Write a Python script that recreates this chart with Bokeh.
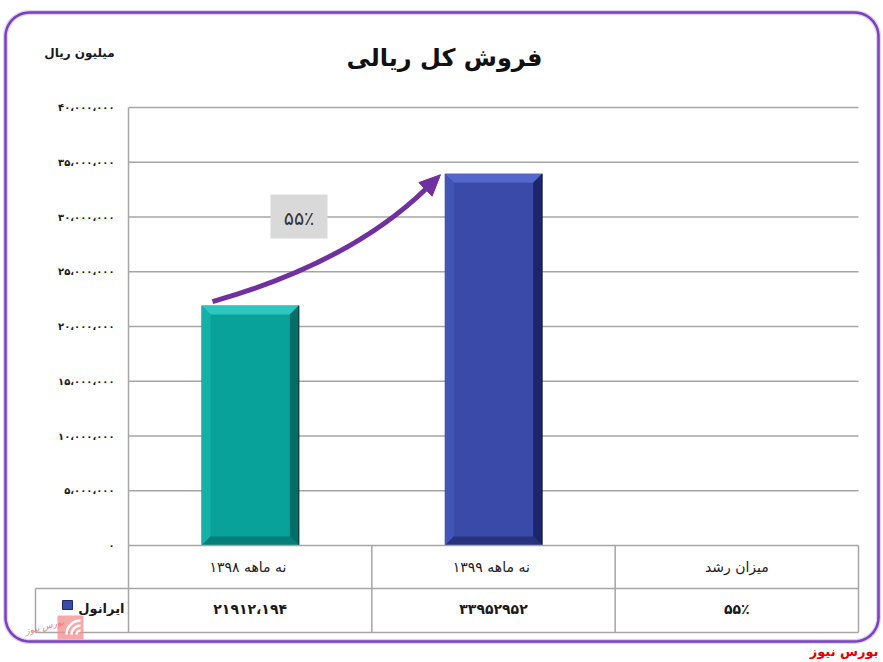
import numpy as np
from bokeh.plotting import figure
from bokeh.models import Range1d
from bokeh.core.properties import value
from bokeh.embed import file_html
from bokeh.resources import INLINE

# ---------------- data ----------------
title_text = "فروش کل ریالی"
unit_text = "میلیون ریال"
categories = ["نه  ماهه ۱۳۹۸", "نه  ماهه ۱۳۹۹", "میزان رشد"]
series_name = "ایرانول"
sales = [21912194, 33952952]
table_values = ["۲۱۹۱۲،۱۹۴", "۳۳۹۵۲۹۵۲", "۵۵٪"]
growth_label = "۵۵٪"
y_ticks = [0, 5000000, 10000000, 15000000, 20000000, 25000000, 30000000, 35000000, 40000000]
y_tick_labels = ["۰", "۵،۰۰۰،۰۰۰", "۱۰،۰۰۰،۰۰۰", "۱۵،۰۰۰،۰۰۰", "۲۰،۰۰۰،۰۰۰",
                 "۲۵،۰۰۰،۰۰۰", "۳۰،۰۰۰،۰۰۰", "۳۵،۰۰۰،۰۰۰", "۴۰،۰۰۰،۰۰۰"]
source_text = "بورس نیوز"

# ---------------- layout (page pixels) ----------------
W, H = 883, 662
M = 0
PLOT_L, PLOT_R, PLOT_T, PLOT_B = 128, 858, 107, 545
ROW1, ROW2 = 43, 87
LEG_L = 35

ncat = len(categories)
x_per_px = ncat / (PLOT_R - PLOT_L)
y_per_px = y_ticks[-1] / (PLOT_B - PLOT_T)


def X(px):
    return (px - PLOT_L) * x_per_px


def Y(py):
    return (PLOT_B - py) * y_per_px


def PY(v):
    return PLOT_B - v / y_per_px


FONT = value("DejaVu Sans")

p = figure(width=W, height=H, output_backend="svg", toolbar_location=None,
           x_range=Range1d(X(M), X(M + W)), y_range=Range1d(Y(M + H), Y(M)),
           x_axis_type=None, y_axis_type=None, min_border=0)
p.outline_line_color = None
p.background_fill_color = "white"
p.border_fill_color = "white"

# rounded purple frame
def rounded_rect(l, t, r, b, rad, n=14):
    xs, ys = [], []
    corners = [(r - rad, t + rad, -90, 0), (r - rad, b - rad, 0, 90),
               (l + rad, b - rad, 90, 180), (l + rad, t + rad, 180, 270)]
    for cx, cy, a0, a1 in corners:
        for a in np.linspace(np.radians(a0), np.radians(a1), n):
            xs.append(cx + rad * np.cos(a))
            ys.append(cy + rad * np.sin(a))
    return [X(v) for v in xs], [Y(v) for v in ys]

fx, fy = rounded_rect(5, 12, 878, 641, 24)
p.patch(fx, fy, fill_color=None, line_color="#C9B5E6", line_width=5, line_alpha=0.6)
p.patch(fx, fy, fill_color=None, line_color="#7B3FC4", line_width=2.5)

# gridlines
grid_color = "#A6A6A6"
p.segment(x0=[0] * (len(y_ticks) - 1), y0=y_ticks[1:], x1=[ncat] * (len(y_ticks) - 1), y1=y_ticks[1:],
          line_color=grid_color, line_width=1.5)

# y tick labels
p.text(x=[X(114)] * len(y_ticks), y=y_ticks, text=y_tick_labels, text_align="right",
       text_baseline="middle", text_font_size="10px", text_font_style="bold",
       text_font=FONT, text_color="#1a1a1a")

# bars with bevel
bar_w = 0.4
centers = [i + 0.5 for i in range(len(sales))]
face = ["#08A29B", "#3A4AA9"]
top_c = ["#2CC8C0", "#5566CC"]
left_c = ["#15B0A8", "#4455B8"]
right_c = ["#056E69", "#1C266C"]
bot_c = ["#067F79", "#27337F"]
p.vbar(x=centers, top=sales, bottom=0, width=bar_w, fill_color=face, line_color=None)
bx = 9 * x_per_px
by = 9 * y_per_px
for i, (c, t) in enumerate(zip(centers, sales)):
    l, r = c - bar_w / 2, c + bar_w / 2
    p.patch([l, r, r - bx, l + bx], [t, t, t - by, t - by], fill_color=top_c[i], line_color=None)
    p.patch([l, l, l + bx, l + bx], [0, t, t - by, by], fill_color=left_c[i], line_color=None)
    p.patch([r, r, r - bx, r - bx], [0, t, t - by, by], fill_color=right_c[i], line_color=None)
    p.patch([l, r, r - bx, l + bx], [0, 0, by, by], fill_color=bot_c[i], line_color=None)
    p.segment(x0=[r], y0=[0], x1=[r], y1=[t], line_color="#10181a", line_width=1.5, line_alpha=0.6)

# table lines
p.segment(x0=[0, X(LEG_L), X(LEG_L)], y0=[0, Y(PLOT_B + ROW1), Y(PLOT_B + ROW2)],
          x1=[ncat] * 3, y1=[0, Y(PLOT_B + ROW1), Y(PLOT_B + ROW2)],
          line_color=grid_color, line_width=1.5)
p.segment(x0=[0], y0=[y_ticks[-1]], x1=[0], y1=[Y(PLOT_B + ROW2)], line_color=grid_color, line_width=1.5)
p.segment(x0=list(range(1, ncat + 1)), y0=[0] * ncat, x1=list(range(1, ncat + 1)),
          y1=[Y(PLOT_B + ROW2)] * ncat, line_color=grid_color, line_width=1.5)
p.segment(x0=[X(LEG_L)], y0=[Y(PLOT_B + ROW1)], x1=[X(LEG_L)], y1=[Y(PLOT_B + ROW2)],
          line_color=grid_color, line_width=1.5)

# table texts
col_centers = [i + 0.5 for i in range(ncat)]
p.text(x=col_centers, y=[Y(PLOT_B + 21)] * ncat, text=categories, text_align="center",
       text_baseline="middle", text_font_size="14px", text_font=FONT, text_color="#1a1a1a")
p.text(x=col_centers, y=[Y(PLOT_B + 63)] * ncat, text=table_values, text_align="center",
       text_baseline="middle", text_font_size="14px", text_font_style="bold", text_font=FONT,
       text_color="#1a1a1a")
p.rect(x=[X(67)], y=[Y(604.5)], width=10, height=9, width_units="screen", height_units="screen",
       fill_color=face[1], line_color="#1C266C", line_width=1)
p.text(x=[X(124)], y=[Y(608)], text=[series_name], text_align="right", text_baseline="middle",
       text_font_size="13px", text_font_style="bold", text_font=FONT, text_color="#1a1a1a")

# title & unit
p.text(x=[X(444)], y=[Y(57)], text=[title_text], text_align="center", text_baseline="middle",
       text_font_size="24px", text_font_style="bold", text_font=FONT, text_color="#111111")
p.text(x=[X(79)], y=[Y(52)], text=[unit_text], text_align="center", text_baseline="middle",
       text_font_size="12px", text_font_style="bold", text_font=FONT, text_color="#1a1a1a")

# growth arrow
sx, sy = 212.0, PY(sales[0]) - 4
tx, ty = 440.0, PY(sales[1]) + 1
cx, cy = 350.0, 262.0
d = np.array([tx - cx, ty - cy]); d = d / np.linalg.norm(d)
perp = np.array([-d[1], d[0]])
head_len, head_half = 21.0, 9.5
base = np.array([tx, ty]) - head_len * d
p.quadratic(x0=[X(sx)], y0=[Y(sy)], x1=[X(base[0] + 2 * d[0])], y1=[Y(base[1] + 2 * d[1])],
            cx=[X(cx)], cy=[Y(cy)], line_color="#7030A0", line_width=5)
hp = [np.array([tx, ty]), base + head_half * perp, base - head_half * perp]
p.patch([X(q[0]) for q in hp], [Y(q[1]) for q in hp], fill_color="#7030A0", line_color="#7030A0")

# growth label box
p.quad(left=[X(270)], right=[X(327)], top=[Y(194)], bottom=[Y(238)], fill_color="#D9D9D9", line_color=None)
p.text(x=[X(298.5)], y=[Y(217)], text=[growth_label], text_align="center", text_baseline="middle",
       text_font_size="19px", text_font=FONT, text_color="#333333")

# watermark logo
p.quad(left=[X(57)], right=[X(83)], top=[Y(615)], bottom=[Y(639)], fill_color="#F28C8C",
       fill_alpha=0.75, line_color=None)
p.arc(x=[X(80)] * 3, y=[Y(634)] * 3, radius=[4, 9, 14], radius_units="screen",
      start_angle=[np.pi / 2] * 3, end_angle=[np.pi] * 3, line_color="white", line_width=2.5)
p.text(x=[X(44)], y=[Y(626)], text=[source_text], text_align="center", text_baseline="middle",
       text_font_size="9px", text_font_style="italic", text_font=FONT, text_color="#F07A7A",
       angle=0.25)

# source
p.text(x=[X(878)], y=[Y(651)], text=[source_text], text_align="right", text_baseline="middle",
       text_font_size="13px", text_font_style="bold", text_font=FONT, text_color="#E00000")

open("out.html", "w").write(file_html(p, INLINE))
